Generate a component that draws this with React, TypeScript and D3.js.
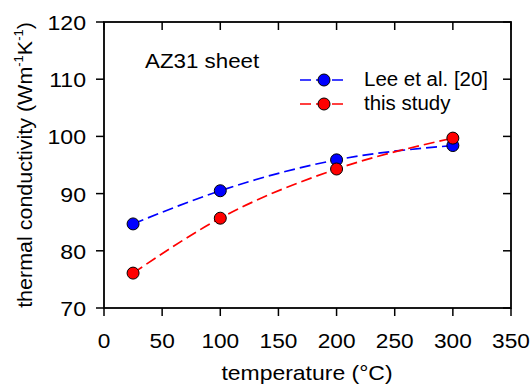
import React, { useRef, useEffect } from 'react';
import * as d3 from 'd3';

const temps = [25, 100, 200, 300];
const leeValues = [84.7, 90.5, 95.9, 98.4];
const studyValues = [76.1, 85.7, 94.3, 99.7];
const xTicks = [0, 50, 100, 150, 200, 250, 300, 350];
const yTicks = [70, 80, 90, 100, 110, 120];
const seriesNames = ['Lee et al. [20]', 'this study'];
const seriesColors = ['#0000ff', '#ff0000'];

const FONT = 'Liberation Sans, Arial, Helvetica, sans-serif';

export default function App() {
  const svgRef = useRef<SVGSVGElement>(null);

  useEffect(() => {
    const svg = d3.select(svgRef.current);
    svg.selectAll('*').remove();

    const left = 104, right = 511, top = 22, bottom = 308;
    const x = d3.scaleLinear().domain([0, 350]).range([left, right]);
    const y = d3.scaleLinear().domain([70, 120]).range([bottom, top]);

    // text is a bit wider than plain Arial in the reference, so stretch x a little
    const text = (tx: number, ty: number, s: string, size: number, sx: number, anchor = 'start') =>
      svg.append('text')
        .attr('transform', `translate(${tx},${ty}) scale(${sx},1)`)
        .attr('font-family', FONT).attr('font-size', size)
        .attr('text-anchor', anchor).attr('fill', '#000').text(s);

    // frame
    svg.append('rect').attr('x', left).attr('y', top)
      .attr('width', right - left).attr('height', bottom - top)
      .attr('fill', 'none').attr('stroke', '#000').attr('stroke-width', 1.8);

    // x ticks: outward at bottom, inward at top
    for (const t of xTicks) {
      svg.append('line').attr('x1', x(t)).attr('x2', x(t)).attr('y1', bottom).attr('y2', bottom + 8)
        .attr('stroke', '#000').attr('stroke-width', 1.5);
      svg.append('line').attr('x1', x(t)).attr('x2', x(t)).attr('y1', top).attr('y2', top + 8)
        .attr('stroke', '#000').attr('stroke-width', 1.5);
      text(x(t), 348, String(t), 21, 1.08, 'middle');
    }
    // y ticks: outward at left, inward at right
    for (const t of yTicks) {
      svg.append('line').attr('x1', left - 8).attr('x2', left).attr('y1', y(t)).attr('y2', y(t))
        .attr('stroke', '#000').attr('stroke-width', 1.5);
      svg.append('line').attr('x1', right - 8).attr('x2', right).attr('y1', y(t)).attr('y2', y(t))
        .attr('stroke', '#000').attr('stroke-width', 1.5);
      text(86, y(t) + 8, String(t), 21, 1.1, 'end');
    }

    // axis titles
    text(307, 380, 'temperature (°C)', 20.5, 1.12, 'middle');
    const yt = svg.append('text')
      .attr('transform', 'translate(32,165) scale(0.95,1) rotate(-90)')
      .attr('font-family', FONT).attr('font-size', 21.5).attr('text-anchor', 'middle');
    yt.append('tspan').text('thermal conductivity (Wm');
    yt.append('tspan').attr('font-size', 13).attr('dy', -9).text('-1');
    yt.append('tspan').attr('dy', 9).text('K');
    yt.append('tspan').attr('font-size', 13).attr('dy', -9).text('-1');
    yt.append('tspan').attr('dy', 9).text(')');

    text(145, 68, 'AZ31 sheet', 20.5, 1.09);

    // series
    const all = [leeValues, studyValues];
    const line = d3.line<number>()
      .x((_, i) => x(temps[i]))
      .y((d) => y(d))
      .curve(d3.curveMonotoneX);

    all.forEach((vals, k) => {
      svg.append('path').datum(vals).attr('d', line)
        .attr('fill', 'none').attr('stroke', seriesColors[k])
        .attr('stroke-width', 1.7).attr('stroke-dasharray', '11,5');
    });
    all.forEach((vals, k) => {
      svg.selectAll(null).data(vals).enter().append('circle')
        .attr('cx', (_, i) => x(temps[i])).attr('cy', (d) => y(d)).attr('r', 6)
        .attr('fill', seriesColors[k]).attr('stroke', '#000').attr('stroke-width', 1);
    });

    // legend
    seriesNames.forEach((name, k) => {
      const ly = 80 + k * 24;
      svg.append('line').attr('x1', 300).attr('x2', 346).attr('y1', ly).attr('y2', ly)
        .attr('stroke', seriesColors[k]).attr('stroke-width', 1.7).attr('stroke-dasharray', '11,5');
      svg.append('circle').attr('cx', 324).attr('cy', ly).attr('r', 6)
        .attr('fill', seriesColors[k]).attr('stroke', '#000').attr('stroke-width', 1);
      text(364, ly + 6, name, 19.5, 1.05);
    });
  }, []);

  return (
    <svg ref={svgRef} width={531} height={385}
      style={{ position: 'absolute', left: 0, top: 0, background: '#fff' }} />
  );
}
